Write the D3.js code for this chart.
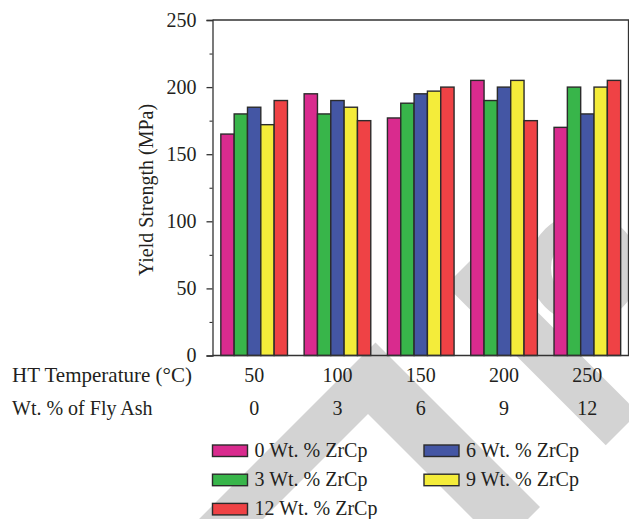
<!DOCTYPE html>
<html>
<head>
<meta charset="utf-8">
<script src="https://cdn.jsdelivr.net/npm/d3@7"></script>
<style>
  body { margin: 0; background: #fff; }
  text { font-family: "Liberation Serif", "Times New Roman", serif; fill: #231f20; }
</style>
</head>
<body>
<script>
// data
let temps = ["50","100","150","200","250"];
let flyAsh = ["0","3","6","9","12"];
let series = ["0 Wt. % ZrCp","3 Wt. % ZrCp","6 Wt. % ZrCp","9 Wt. % ZrCp","12 Wt. % ZrCp"];
let colors = ["#d92b8e","#38b54a","#4456a4","#f4ec3a","#ef4245"];
// yield strength (MPa) per temperature group, one value per series
let zr0  = [165,195,177,205,170];
let zr3  = [180,180,188,190,200];
let zr6  = [185,190,195,200,180];
let zr9  = [172,185,197,205,200];
let zr12 = [190,175,200,175,205];
let values = [zr0,zr3,zr6,zr9,zr12];
let yTicks = [0,50,100,150,200,250];
let yMinor = [25,75,125,175,225];

let W = 629, H = 519;
let svg = d3.select("body").append("svg").attr("width",W).attr("height",H);

let pLeft = 212.5, pRight = 628.5, pTop = 20, pBottom = 355.5;

// watermark (decorative, behind the chart)
let wm = svg.append("g");
wm.append("polygon").attr("fill","#d3d3d3")
  .attr("points","130,588 375.5,342.5 540,507 500.5,546.5 368,414 234,548");
wm.append("path").attr("fill","none").attr("stroke","#d3d3d3").attr("stroke-width",46)
  .attr("d","M462,269 L622,429");
wm.append("circle").attr("cx",584).attr("cy",268).attr("r",44)
  .attr("fill","none").attr("stroke","#d3d3d3").attr("stroke-width",22);

let y = d3.scaleLinear().domain([0,250]).range([pBottom,pTop]);
let x = d3.scaleBand().domain(temps).range([pLeft,W]).paddingInner(0.2).paddingOuter(0.1);
let xs = d3.scaleBand().domain(series).range([0,x.bandwidth()]);

let rows = temps.map((t,i)=>series.map((s,j)=>({t:t,s:s,v:values[j][i],c:colors[j]})));

let chartGroup = svg.append("g");

chartGroup.selectAll("g.grp").data(rows).enter().append("g")
  .attr("class","grp")
  .attr("transform",(d,i)=>"translate("+x(temps[i])+",0)")
  .selectAll("rect").data(d=>d).enter().append("rect")
  .attr("x",d=>xs(d.s))
  .attr("y",d=>y(d.v))
  .attr("width",xs.bandwidth())
  .attr("height",d=>y(0)-y(d.v))
  .attr("fill",d=>d.c)
  .attr("stroke","#2b2b2b")
  .attr("stroke-width",1.4);

// frame
chartGroup.append("path")
  .attr("d","M"+pLeft+","+pTop+"H"+pRight+"V"+pBottom+"H"+pLeft)
  .attr("fill","none").attr("stroke","#333").attr("stroke-width",1.3);

// y axis
let yAxis = d3.axisLeft(y).tickValues(yTicks).tickSize(6).tickPadding(10);
let ya = chartGroup.append("g").attr("transform","translate("+pLeft+",0)").call(yAxis);
ya.selectAll("text").style("font-size","20px");
ya.selectAll("line,path").attr("stroke","#333").attr("stroke-width",1.3);

let yMinorAxis = d3.axisLeft(y).tickValues(yMinor).tickSize(3).tickFormat("");
let ym = chartGroup.append("g").attr("transform","translate("+pLeft+",0)").call(yMinorAxis);
ym.select("path").remove();
ym.selectAll("line").attr("stroke","#333").attr("stroke-width",1.1);

svg.append("text")
  .attr("transform","translate(153,190) rotate(-90)")
  .attr("text-anchor","middle")
  .style("font-size","20px")
  .text("Yield Strength (MPa)");

// category rows
svg.append("text").attr("x",12).attr("y",382).style("font-size","21px").text("HT Temperature (°C)");
svg.append("text").attr("x",12).attr("y",415).style("font-size","20px").text("Wt. % of Fly Ash");

svg.selectAll("text.temp").data(temps).enter().append("text")
  .attr("class","temp")
  .attr("x",d=>x(d)+x.bandwidth()/2).attr("y",382)
  .attr("text-anchor","middle").style("font-size","20px")
  .text(d=>d);

svg.selectAll("text.ash").data(flyAsh).enter().append("text")
  .attr("class","ash")
  .attr("x",(d,i)=>x(temps[i])+x.bandwidth()/2).attr("y",415)
  .attr("text-anchor","middle").style("font-size","20px")
  .text(d=>d);

// legend
let legendOrder = [0,2,1,3,4];
let legend = svg.selectAll("g.leg").data(legendOrder).enter().append("g")
  .attr("class","leg")
  .attr("transform",(d,k)=>"translate("+(k%2===0?212.5:424)+","+(445+Math.floor(k/2)*29.2)+")");

legend.append("rect")
  .attr("width",35).attr("height",11.5)
  .attr("fill",d=>colors[d])
  .attr("stroke","#2b2b2b").attr("stroke-width",1.4);

legend.append("text")
  .attr("x",42).attr("y",12)
  .style("font-size","20px")
  .text(d=>series[d]);
</script>
</body>
</html>
